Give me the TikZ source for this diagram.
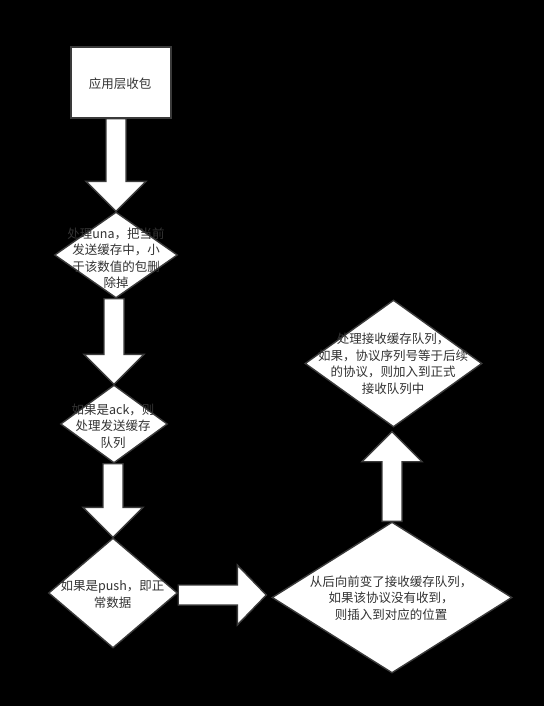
\documentclass[tikz,border=0pt]{standalone}
\usepackage{fontspec}
\setmainfont{Noto Sans CJK SC}
\usetikzlibrary{shapes.geometric,calc}
\definecolor{ink}{HTML}{333333}
\definecolor{edge}{HTML}{3A3A3A}
\tikzset{
  boxshape/.style={draw=edge, line width=1.4pt, fill=white, minimum width=100pt, minimum height=71pt, inner sep=0pt},
  dshape/.style={draw=edge, line width=1.4pt, fill=white, diamond, inner sep=0pt},
  txt/.style={text=ink, align=center, font=\fontsize{12.5}{16.5}\selectfont, inner sep=0pt},
  blockarrow/.style={draw=edge, line width=1.4pt, fill=white, line join=miter}
}
\newcommand\barrowdown[2]{\path[blockarrow] let \p1=(#1.south), \p2=(#2.north) in
  (\x2-10pt,\y1) -- (\x2-10pt,\y2+30pt) -- (\x2-30pt,\y2+30pt) -- (\x2,\y2) -- (\x2+30pt,\y2+30pt) -- (\x2+10pt,\y2+30pt) -- (\x2+10pt,\y1) -- cycle;}
\begin{document}
\begin{tikzpicture}[x=1pt,y=-1pt]
\fill[black] (0,0) rectangle (544,706);
\useasboundingbox (0,0) rectangle (544,706);
% nodes
\node[boxshape] (box) at (121,82.5) {};
\node[dshape, minimum width=123pt, minimum height=86pt] (d1) at (116,255) {};
\node[dshape, minimum width=107pt, minimum height=78pt] (d2) at (114,424) {};
\node[dshape, minimum width=129pt, minimum height=110pt] (d3) at (113,593) {};
\node[dshape, minimum width=240pt, minimum height=151pt] (d4) at (392,597.5) {};
\node[dshape, minimum width=177pt, minimum height=127pt] (d5) at (393.5,363.5) {};
% block arrows
\barrowdown{box}{d1}
\barrowdown{d1}{d2}
\barrowdown{d2}{d3}
\path[blockarrow] let \p1=(d3.east), \p2=(d4.west) in
  (\x1,-585pt) -- (\x2-34pt,-585pt) -- (\x2-34pt,-565pt) -- (\x2-5pt,-595pt) -- (\x2-34pt,-625pt) -- (\x2-34pt,-605pt) -- (\x1,-605pt) -- cycle;
\path[blockarrow] let \p1=(d4.north), \p2=(d5.south) in
  (\x1-10pt,\y1) -- (\x1-10pt,\y2-34pt) -- (\x1-30pt,\y2-34pt) -- (\x1,\y2-4pt) -- (\x1+30pt,\y2-34pt) -- (\x1+10pt,\y2-34pt) -- (\x1+10pt,\y1) -- cycle;
% texts
\node[txt] (t0) at (120,84) {应用层收包};
\node[txt] (t1) at (116,258) {处理una，把当前\\发送缓存中，小\\于该数值的包删\\除掉};
\node[txt] (t2) at (113,426) {如果是ack，则\\处理发送缓存\\队列};
\node[txt] (t3) at (112.5,594.5) {如果是push，即正\\常数据};
\node[txt] (t4) at (391,598) {从后向前变了接收缓存队列，\\如果该协议没有收到，\\则插入到对应的位置};
\node[txt] (t5) at (393,364) {处理接收缓存队列，\\如果，协议序列号等于后续\\的协议，则加入到正式\\接收队列中};
\end{tikzpicture}
\end{document}
